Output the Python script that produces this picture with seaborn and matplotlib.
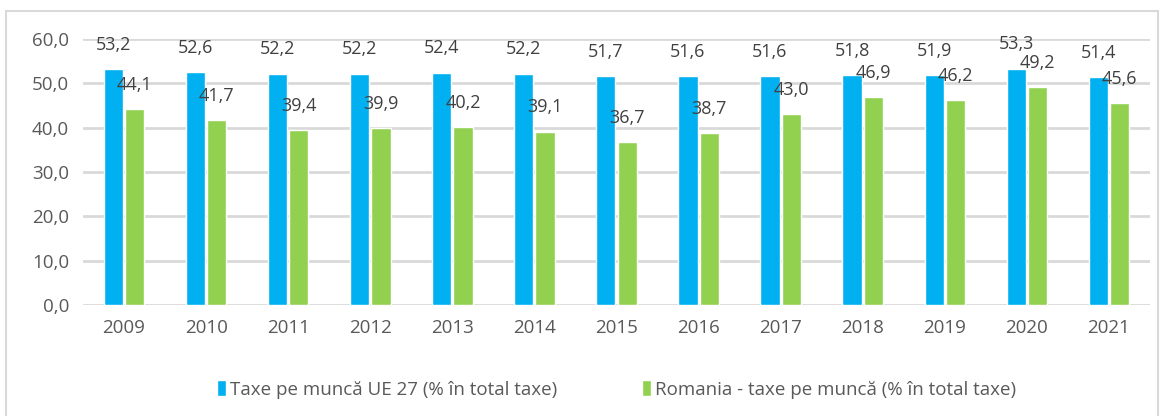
import numpy as np
import pandas as pd
import matplotlib
matplotlib.use("Agg")
import matplotlib.pyplot as plt
import seaborn as sns
from matplotlib.ticker import FuncFormatter
from matplotlib.patches import Rectangle

years = ['2009', '2010', '2011', '2012', '2013', '2014', '2015',
         '2016', '2017', '2018', '2019', '2020', '2021']
ue27 = [53.2, 52.6, 52.2, 52.2, 52.4, 52.2, 51.7, 51.6, 51.6, 51.8, 51.9, 53.3, 51.4]
romania = [44.1, 41.7, 39.4, 39.9, 40.2, 39.1, 36.7, 38.7, 43.0, 46.9, 46.2, 49.2, 45.6]
series_names = ['Taxe pe muncă UE 27 (% în total taxe)',
                'Romania - taxe pe muncă (% în total taxe)']
colors = ['#00B0F0', '#92D050']

df = pd.DataFrame({
    'year': years * 2,
    'value': ue27 + romania,
    'series': [series_names[0]] * len(years) + [series_names[1]] * len(years),
})

sns.set_style('white')
plt.rcParams['font.family'] = ['Open Sans', 'DejaVu Sans']

fig = plt.figure(figsize=(11.64, 4.16), dpi=100)
ax = fig.add_axes([83 / 1164, 1 - 305 / 416, 1067 / 1164, 266 / 416])

sns.barplot(data=df, x='year', y='value', hue='series', palette=colors,
            width=0.52, gap=0.1, ax=ax, saturation=1, legend=True)

ax.set_ylim(0, 60)
ax.set_yticks(np.arange(0, 61, 10))
ax.yaxis.set_major_formatter(FuncFormatter(lambda v, p: f'{v:.1f}'.replace('.', ',')))
ax.grid(axis='y', color='#D9D9D9', linewidth=2)
ax.set_axisbelow(True)
for s in ax.spines.values():
    s.set_visible(False)
ax.set_xlabel('')
ax.set_ylabel('')
ax.tick_params(axis='both', length=0, labelsize=13.5, labelcolor='#595959', pad=10)

for cont in ax.containers:
    labels = [f'{v:.1f}'.replace('.', ',') for v in cont.datavalues]
    ax.bar_label(cont, labels=labels, padding=11, fontsize=13, color='#404040')

ax.legend(loc='upper center', bbox_to_anchor=(0.5, -0.22), ncol=2, frameon=False,
          fontsize=13.5, labelcolor='#595959', handlelength=0.5, handleheight=0.9,
          handletextpad=0.2, columnspacing=4.5)

fig.patches.append(Rectangle((6 / 1164, -0.05), 1152 / 1164, 1 - 11 / 416 + 0.05,
                             transform=fig.transFigure, fill=False,
                             edgecolor='#D9D9D9', linewidth=1.5))

fig.savefig('out.png', dpi=100)
